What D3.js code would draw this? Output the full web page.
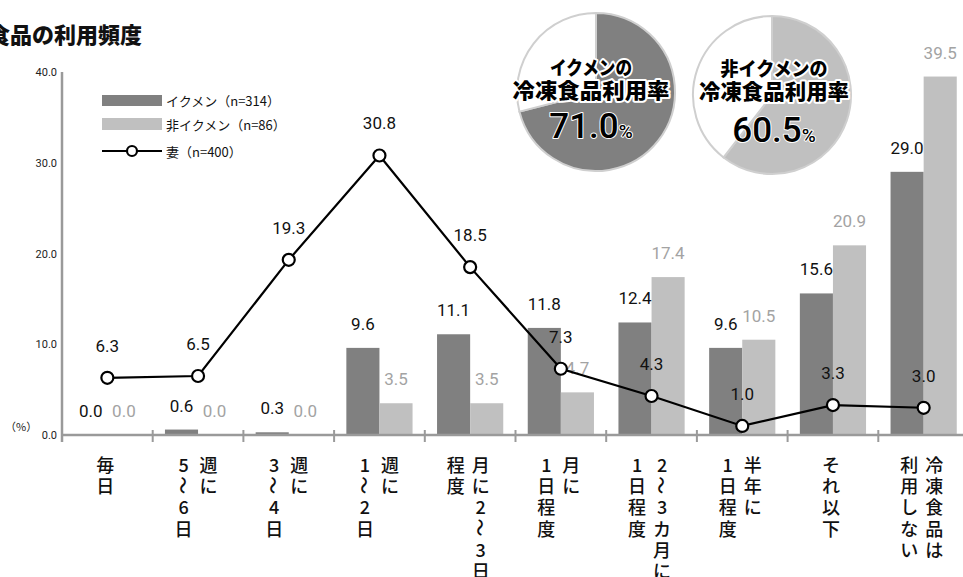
<!DOCTYPE html>
<html><head><meta charset="utf-8">
<script src="https://cdn.jsdelivr.net/npm/d3@7"></script>
<style>
html,body{margin:0;padding:0;background:#fff;overflow:hidden}
svg{display:block}
</style></head><body>
<svg id="chart" width="963" height="577"></svg>
<script>
// Frequency of frozen-food use: bars for the two father groups, line for wives
const categories = ["毎日", "週に5〜6日", "週に3〜4日", "週に1〜2日", "月に2〜3日程度",
  "月に1日程度", "2〜3カ月に1日程度", "半年に1日程度", "それ以下", "冷凍食品は利用しない"];
// vertical label columns, first entry is the rightmost column
const categoryColumns = [["毎日"], ["週に", "5〜6日"], ["週に", "3〜4日"], ["週に", "1〜2日"],
  ["月に2〜3日", "程度"], ["月に", "1日程度"], ["2〜3カ月に", "1日程度"], ["半年に", "1日程度"],
  ["それ以下"], ["冷凍食品は", "利用しない"]];
const ikumen = [0.0, 0.6, 0.3, 9.6, 11.1, 11.8, 12.4, 9.6, 15.6, 29.0];
const nonIkumen = [0.0, 0.0, 0.0, 3.5, 3.5, 4.7, 17.4, 10.5, 20.9, 39.5];
const wife = [6.3, 6.5, 19.3, 30.8, 18.5, 7.3, 4.3, 1.0, 3.3, 3.0];
const yTicks = [0, 10, 20, 30, 40];
const seriesNames = ["イクメン（n=314）", "非イクメン（n=86）", "妻（n=400）"];
const pieRates = [71.0, 60.5];
const pieTitles = [["イクメンの", "冷凍食品利用率"], ["非イクメンの", "冷凍食品利用率"]];
const chartTitle = "冷凍食品の利用頻度";

const DARK = "#808080", LIGHT = "#c0c0c0", AXIS = "#9a9a9a";
const NUM_FONT = "Roboto, 'Liberation Sans', sans-serif";
const JP_FONT = "'Noto Sans CJK JP', 'Noto Sans', sans-serif";

const svg = d3.select("#chart");

const x = d3.scaleBand().domain(categories).range([62, 969]).paddingInner(0).paddingOuter(0);
const xs = d3.scaleBand().domain(["ikumen", "non"]).range([0, x.bandwidth()]).paddingInner(0).paddingOuter(0.37);
const y = d3.scaleLinear().domain([0, 40]).range([435, 72]);

// title
svg.append("text").attr("x", -56).attr("y", 43)
  .attr("font-family", JP_FONT).attr("font-weight", 900).attr("font-size", 22)
  .attr("fill", "#111").text(chartTitle);

// y axis
const yAxis = d3.axisLeft(y).tickValues(yTicks).tickSize(0).tickPadding(5).tickFormat(d3.format(".1f"));
const gy = svg.append("g").attr("transform", "translate(62,0)").call(yAxis);
gy.select(".domain").remove();
gy.selectAll("text").attr("font-family", NUM_FONT).attr("font-size", 11).attr("fill", "#222");
svg.append("line").attr("x1", 62).attr("x2", 62).attr("y1", y(40)).attr("y2", y(0) + 7)
  .attr("stroke", AXIS).attr("stroke-width", 2.5);
svg.append("text").attr("x", 5).attr("y", 431).attr("font-family", JP_FONT)
  .attr("font-size", 11).attr("fill", "#222").text("（%）");

// bars
const bars = svg.append("g");
categories.forEach((c, i) => {
  bars.append("rect").attr("x", x(c) + xs("ikumen")).attr("width", xs.bandwidth())
    .attr("y", y(ikumen[i])).attr("height", y(0) - y(ikumen[i])).attr("fill", DARK);
  bars.append("rect").attr("x", x(c) + xs("non")).attr("width", xs.bandwidth())
    .attr("y", y(nonIkumen[i])).attr("height", y(0) - y(nonIkumen[i])).attr("fill", LIGHT);
});

// x axis with ticks at category boundaries
svg.append("line").attr("x1", 62).attr("x2", 969).attr("y1", y(0)).attr("y2", y(0))
  .attr("stroke", AXIS).attr("stroke-width", 2.5);
svg.append("g").selectAll("line").data(categories.slice(1)).join("line")
  .attr("x1", d => x(d)).attr("x2", d => x(d)).attr("y1", y(0) - 5).attr("y2", y(0) + 7)
  .attr("stroke", AXIS).attr("stroke-width", 2);

// bar value labels
const barLabels = svg.append("g").attr("font-family", NUM_FONT).attr("font-size", 17).attr("text-anchor", "middle");
categories.forEach((c, i) => {
  barLabels.append("text").attr("x", x(c) + xs("ikumen") + xs.bandwidth() / 2)
    .attr("y", y(ikumen[i]) - 18).attr("fill", "#111").text(ikumen[i].toFixed(1));
  barLabels.append("text").attr("x", x(c) + xs("non") + xs.bandwidth() / 2)
    .attr("y", y(nonIkumen[i]) - 18).attr("fill", "#a3a3a3").text(nonIkumen[i].toFixed(1));
});

// wife line
const cx = c => x(c) + x.bandwidth() / 2;
const line = d3.line().x((d, i) => cx(categories[i])).y(d => y(d));
svg.append("path").datum(wife).attr("d", line).attr("fill", "none")
  .attr("stroke", "#000").attr("stroke-width", 2.2);
svg.append("g").selectAll("circle").data(wife).join("circle")
  .attr("cx", (d, i) => cx(categories[i])).attr("cy", d => y(d)).attr("r", 6)
  .attr("fill", "#fff").attr("stroke", "#000").attr("stroke-width", 2.2);
svg.append("g").attr("font-family", NUM_FONT).attr("font-size", 17).attr("text-anchor", "middle")
  .selectAll("text").data(wife).join("text")
  .attr("x", (d, i) => cx(categories[i])).attr("y", d => y(d) - 26)
  .attr("fill", "#111").text(d => d.toFixed(1));

// vertical category labels
const xl = svg.append("g").attr("font-family", JP_FONT).attr("font-size", 18)
  .attr("font-weight", 500).attr("fill", "#111");
categories.forEach((c, i) => {
  const cols = categoryColumns[i];
  const center = cx(c) - 2;
  cols.forEach((col, j) => {
    const colX = cols.length === 1 ? center : center + 12.5 - 25 * j;
    Array.from(col).forEach((ch, k) => {
      const cy = 464 + 21.2 * k;
      const t = xl.append("text").attr("x", colX).attr("y", cy)
        .attr("text-anchor", "middle").attr("dominant-baseline", "central").text(ch);
      if (ch === "〜") t.attr("transform", `rotate(90,${colX},${cy})`);
    });
  });
});

// legend
const lg = svg.append("g").attr("font-family", JP_FONT).attr("font-size", 13).attr("fill", "#111");
lg.append("rect").attr("x", 102).attr("y", 95).attr("width", 60).attr("height", 11).attr("fill", DARK);
lg.append("rect").attr("x", 102).attr("y", 118).attr("width", 60).attr("height", 12).attr("fill", LIGHT);
lg.append("line").attr("x1", 102).attr("x2", 162).attr("y1", 151).attr("y2", 151)
  .attr("stroke", "#000").attr("stroke-width", 2.2);
lg.append("circle").attr("cx", 132).attr("cy", 151).attr("r", 5)
  .attr("fill", "#fff").attr("stroke", "#000").attr("stroke-width", 2.2);
[100, 124, 151].forEach((ly, i) => {
  lg.append("text").attr("x", 166).attr("y", ly).attr("dominant-baseline", "central").text(seriesNames[i]);
});

// usage-rate pies
const pieGen = d3.pie().sort(null).value(d => d);
const arc = d3.arc().innerRadius(0).outerRadius(79);
const pieSpecs = [
  {cx: 596, cy: 92, fill: DARK, tx: 591, base: [75, 98, 138], widths: [82, 157]},
  {cx: 772, cy: 95, fill: LIGHT, tx: 774, base: [76, 99, 142], widths: [107, 150]}
];
pieSpecs.forEach((p, i) => {
  const g = svg.append("g").attr("transform", `translate(${p.cx},${p.cy})`);
  g.selectAll("path").data(pieGen([pieRates[i], 100 - pieRates[i]])).join("path")
    .attr("d", arc).attr("fill", (d, k) => k === 0 ? p.fill : "#fff")
    .attr("stroke", "#cfcfcf").attr("stroke-width", 2);
  const tg = svg.append("g").attr("font-family", JP_FONT).attr("font-weight", 900)
    .attr("text-anchor", "middle").attr("fill", "#000")
    .attr("stroke", "#fff").attr("stroke-linejoin", "round").style("paint-order", "stroke");
  pieTitles[i].forEach((line, k) => {
    tg.append("text").attr("x", p.tx).attr("y", p.base[k]).attr("font-size", k === 0 ? 19 : 21)
      .attr("stroke-width", 4).attr("textLength", p.widths[k]).attr("lengthAdjust", "spacingAndGlyphs")
      .text(line);
  });
  const nt = tg.append("text").attr("x", p.tx).attr("y", p.base[2]).attr("stroke-width", 2)
    .attr("font-family", NUM_FONT).attr("font-weight", 500);
  nt.append("tspan").attr("font-size", 35).text(pieRates[i].toFixed(1));
  nt.append("tspan").attr("font-size", 19).text("%");
});
</script>
</body></html>
